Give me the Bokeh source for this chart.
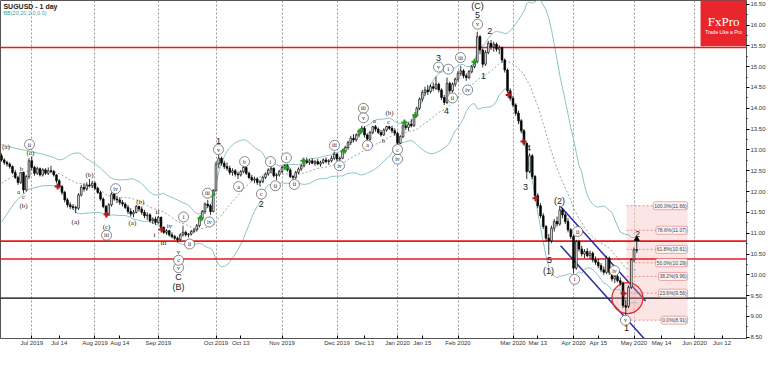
import pandas as pd
from bokeh.plotting import figure
from bokeh.models import Range1d, FixedTicker, Label, NumeralTickFormatter
from bokeh.core.properties import value
from bokeh.embed import file_html
from bokeh.resources import INLINE

# ---------------- data (daily SUGUSD bars) ----------------
opens = [12.86, 12.76, 12.70, 12.66, 12.60, 12.46, 12.34, 12.22, 12.46, 12.04,
         12.36, 12.74, 12.58, 12.44, 12.55, 12.40, 12.52, 12.44, 12.50, 12.48,
         12.40, 12.26, 12.12, 11.98, 11.80, 11.68, 11.64, 11.62, 11.60, 11.92,
         12.10, 12.06, 12.16, 12.14, 12.20, 12.08, 11.98, 11.82, 11.64, 11.46,
         11.68, 11.94, 11.82, 11.80, 11.74, 11.70, 11.62, 11.52, 11.46, 11.50,
         11.64, 11.58, 11.50, 11.42, 11.44, 11.30, 11.34, 11.26, 11.38, 11.14,
         11.02, 11.06, 10.96, 10.92, 10.88, 10.84, 10.96, 11.02, 10.96, 10.98,
         11.04, 11.08, 11.18, 11.36, 11.52, 11.70, 11.66, 11.52, 12.02, 12.66,
         12.80, 12.68, 12.60, 12.56, 12.46, 12.50, 12.42, 12.40, 12.48, 12.58,
         12.44, 12.34, 12.28, 12.30, 12.22, 12.24, 12.34, 12.42, 12.52, 12.56,
         12.38, 12.40, 12.48, 12.58, 12.62, 12.52, 12.36, 12.34, 12.46, 12.54,
         12.62, 12.74, 12.70, 12.74, 12.68, 12.72, 12.66, 12.70, 12.76, 12.72,
         12.74, 12.80, 12.90, 12.78, 12.80, 12.98, 13.06, 13.18, 13.28, 13.24,
         13.36, 13.46, 13.52, 13.36, 13.26, 13.42, 13.56, 13.50, 13.42, 13.36,
         13.48, 13.56, 13.52, 13.46, 13.40, 13.16, 13.32, 13.58, 13.54, 13.62,
         13.58, 13.82, 14.00, 14.22, 14.38, 14.44, 14.40, 14.52, 14.48, 14.58,
         14.44, 14.26, 14.14, 14.60, 14.42, 14.58, 14.70, 14.84, 14.90, 14.78,
         14.74, 14.88, 15.00, 15.12, 15.72, 15.40, 15.06, 15.34, 15.56, 15.48,
         15.54, 15.42, 15.46, 15.16, 14.92, 14.42, 14.24, 14.08, 13.88, 13.70,
         13.46, 13.16, 12.48, 12.86, 12.36, 11.90, 11.66, 11.42, 11.16, 10.88,
         10.82, 11.12, 11.28, 11.22, 11.56, 11.44, 11.28, 11.08, 10.92, 10.16,
         10.80, 10.62, 10.50, 10.56, 10.46, 10.52, 10.36, 10.30, 10.22, 10.12,
         10.06, 10.40, 10.06, 9.90, 9.96, 9.86, 9.80, 9.26, 9.24, 9.70, 10.36, 10.60]
highs = [12.92, 12.80, 12.74, 12.70, 12.63, 12.52, 12.38, 12.46, 12.48, 12.40,
         12.80, 12.84, 12.62, 12.60, 12.58, 12.56, 12.56, 12.58, 12.62, 12.52,
         12.42, 12.30, 12.16, 12.02, 11.84, 11.74, 11.70, 11.66, 11.96, 12.16,
         12.20, 12.22, 12.30, 12.26, 12.24, 12.12, 12.02, 11.86, 11.68, 11.72,
         11.98, 12.00, 11.90, 11.86, 11.80, 11.74, 11.68, 11.60, 11.56, 11.68,
         11.66, 11.64, 11.56, 11.50, 11.48, 11.38, 11.40, 11.42, 11.40, 11.16,
         11.10, 11.08, 11.02, 10.96, 10.92, 11.00, 11.18, 11.06, 11.00, 11.08,
         11.12, 11.22, 11.40, 11.56, 11.74, 11.80, 11.70, 12.06, 12.72, 12.88,
         12.84, 12.74, 12.70, 12.62, 12.56, 12.54, 12.48, 12.52, 12.64, 12.60,
         12.48, 12.40, 12.36, 12.34, 12.28, 12.38, 12.46, 12.56, 12.62, 12.58,
         12.44, 12.52, 12.62, 12.66, 12.66, 12.56, 12.40, 12.50, 12.58, 12.66,
         12.78, 12.82, 12.78, 12.80, 12.76, 12.78, 12.74, 12.80, 12.82, 12.78,
         12.86, 12.96, 12.92, 12.84, 13.02, 13.10, 13.22, 13.34, 13.38, 13.40,
         13.50, 13.58, 13.56, 13.40, 13.46, 13.58, 13.60, 13.54, 13.48, 13.52,
         13.58, 13.58, 13.58, 13.52, 13.44, 13.36, 13.62, 13.70, 13.66, 13.74,
         13.86, 14.04, 14.26, 14.44, 14.52, 14.56, 14.58, 14.62, 14.76, 14.62,
         14.48, 14.32, 14.74, 14.64, 14.62, 14.74, 14.90, 15.02, 14.94, 14.84,
         14.92, 15.04, 15.16, 15.84, 15.76, 15.44, 15.40, 15.62, 15.64, 15.60,
         15.58, 15.52, 15.48, 15.20, 14.96, 14.48, 14.30, 14.12, 13.94, 13.74,
         13.50, 13.18, 12.92, 12.90, 12.40, 11.96, 11.72, 11.48, 11.20, 10.98,
         11.18, 11.34, 11.40, 11.66, 11.60, 11.50, 11.36, 11.12, 10.96, 10.84,
         10.84, 10.70, 10.62, 10.64, 10.58, 10.56, 10.44, 10.38, 10.28, 10.20,
         10.46, 10.44, 10.10, 9.98, 10.00, 9.94, 9.84, 9.40, 9.74, 10.40, 10.66, 10.81]
lows = [12.72, 12.64, 12.60, 12.55, 12.42, 12.30, 12.16, 12.18, 11.96, 12.00,
        12.30, 12.52, 12.38, 12.40, 12.36, 12.36, 12.40, 12.40, 12.44, 12.36,
        12.20, 12.08, 11.92, 11.74, 11.62, 11.58, 11.56, 11.48, 11.56, 11.88,
        12.00, 12.02, 12.10, 12.08, 12.04, 11.94, 11.78, 11.60, 11.38, 11.42,
        11.64, 11.78, 11.72, 11.68, 11.64, 11.58, 11.46, 11.40, 11.38, 11.48,
        11.52, 11.44, 11.36, 11.32, 11.26, 11.22, 11.20, 11.22, 11.10, 10.98,
        10.96, 10.92, 10.88, 10.84, 10.78, 10.82, 10.92, 10.92, 10.90, 10.94,
        11.00, 11.04, 11.14, 11.30, 11.46, 11.60, 11.44, 11.50, 12.00, 12.56,
        12.62, 12.54, 12.50, 12.40, 12.38, 12.36, 12.30, 12.36, 12.44, 12.40,
        12.30, 12.24, 12.20, 12.16, 12.12, 12.20, 12.30, 12.38, 12.44, 12.34,
        12.28, 12.36, 12.44, 12.52, 12.48, 12.32, 12.28, 12.30, 12.42, 12.50,
        12.58, 12.66, 12.64, 12.66, 12.62, 12.64, 12.60, 12.66, 12.68, 12.64,
        12.70, 12.76, 12.72, 12.70, 12.78, 12.92, 13.00, 13.12, 13.18, 13.20,
        13.30, 13.40, 13.30, 13.20, 13.22, 13.38, 13.44, 13.38, 13.32, 13.34,
        13.44, 13.48, 13.40, 13.34, 13.14, 13.14, 13.28, 13.48, 13.46, 13.54,
        13.56, 13.78, 13.96, 14.16, 14.30, 14.32, 14.36, 14.42, 14.44, 14.38,
        14.20, 14.08, 14.10, 14.36, 14.38, 14.52, 14.64, 14.78, 14.72, 14.66,
        14.70, 14.84, 14.96, 15.08, 15.30, 14.98, 15.02, 15.30, 15.40, 15.36,
        15.36, 15.30, 15.10, 14.86, 14.36, 14.18, 14.02, 13.82, 13.62, 13.40,
        13.10, 12.30, 12.44, 12.30, 11.82, 11.60, 11.36, 11.10, 10.80, 10.48,
        10.76, 11.04, 11.16, 11.18, 11.36, 11.22, 11.02, 10.86, 10.04, 10.12,
        10.56, 10.44, 10.40, 10.42, 10.38, 10.30, 10.24, 10.16, 10.06, 10.00,
        10.02, 10.00, 9.84, 9.80, 9.82, 9.74, 9.20, 9.00, 9.20, 9.66, 10.30, 10.52]
closes = [12.76, 12.70, 12.66, 12.60, 12.46, 12.34, 12.22, 12.46, 12.04, 12.36,
          12.74, 12.58, 12.44, 12.55, 12.40, 12.52, 12.44, 12.50, 12.48, 12.40,
          12.26, 12.12, 11.98, 11.80, 11.68, 11.64, 11.62, 11.60, 11.92, 12.10,
          12.06, 12.16, 12.14, 12.20, 12.08, 11.98, 11.82, 11.64, 11.46, 11.68,
          11.94, 11.82, 11.80, 11.74, 11.70, 11.62, 11.52, 11.46, 11.50, 11.64,
          11.58, 11.50, 11.42, 11.44, 11.30, 11.34, 11.26, 11.38, 11.14, 11.02,
          11.06, 10.96, 10.92, 10.88, 10.84, 10.96, 11.02, 10.96, 10.98, 11.04,
          11.08, 11.18, 11.36, 11.52, 11.70, 11.66, 11.52, 12.02, 12.66, 12.80,
          12.68, 12.60, 12.56, 12.46, 12.50, 12.42, 12.40, 12.48, 12.58, 12.44,
          12.34, 12.28, 12.30, 12.22, 12.24, 12.34, 12.42, 12.52, 12.56, 12.38,
          12.40, 12.48, 12.58, 12.62, 12.52, 12.36, 12.34, 12.46, 12.54, 12.62,
          12.74, 12.70, 12.74, 12.68, 12.72, 12.66, 12.70, 12.76, 12.72, 12.74,
          12.80, 12.90, 12.78, 12.80, 12.98, 13.06, 13.18, 13.28, 13.24, 13.36,
          13.46, 13.52, 13.36, 13.26, 13.42, 13.56, 13.50, 13.42, 13.36, 13.48,
          13.56, 13.52, 13.46, 13.40, 13.16, 13.32, 13.58, 13.54, 13.62, 13.58,
          13.82, 14.00, 14.22, 14.38, 14.44, 14.40, 14.52, 14.48, 14.58, 14.44,
          14.26, 14.14, 14.60, 14.42, 14.58, 14.70, 14.84, 14.90, 14.78, 14.74,
          14.88, 15.00, 15.12, 15.72, 15.40, 15.06, 15.34, 15.56, 15.48, 15.54,
          15.42, 15.46, 15.16, 14.92, 14.42, 14.24, 14.08, 13.88, 13.70, 13.46,
          13.16, 12.48, 12.86, 12.36, 11.90, 11.66, 11.42, 11.16, 10.88, 10.82,
          11.12, 11.28, 11.22, 11.56, 11.44, 11.28, 11.08, 10.92, 10.16, 10.80,
          10.62, 10.50, 10.56, 10.46, 10.52, 10.36, 10.30, 10.22, 10.12, 10.06,
          10.40, 10.06, 9.90, 9.96, 9.86, 9.80, 9.26, 9.22, 9.70, 10.36, 10.60, 10.59]

# Bollinger band values visible before the 20-bar window fills
bb_head_idx = [0, 5, 10, 15]
bb_head_upper = [13.13, 13.04, 12.97, 12.90]
bb_head_lower = [11.27, 11.75, 12.06, 12.14]
bb_head_mid = [12.20, 12.40, 12.50, 12.52]

price_ticks = [8.5, 9.0, 9.5, 10.0, 10.5, 11.0, 11.5, 12.0, 12.5, 13.0, 13.5,
               14.0, 14.5, 15.0, 15.5, 16.0, 16.5]
date_tick_idx = [11, 21, 34, 43, 57, 78, 87, 102, 122, 132, 144, 153, 166,
                 186, 195, 208, 217, 230, 240, 252, 262]
date_tick_labels = ["Jul 2019", "Jul 14", "Aug 2019", "Aug 14", "Sep 2019",
                    "Oct 2019", "Oct 13", "Nov 2019", "Dec 2019", "Dec 13",
                    "Jan 2020", "Jan 15", "Feb 2020", "Mar 2020", "Mar 13",
                    "Apr 2020", "Apr 15", "May 2020", "May 14", "Jun 2020", "Jun 12"]
month_grid_idx = [11, 34, 57, 78, 102, 122, 144, 166, 186, 208, 230, 252, 275]

red_levels = [15.46, 10.81, 10.38]
black_levels = [9.44]

channel_x = [203.3, 234.2]
channel_upper = [11.64, 9.37]
channel_lower = [10.70, 8.43]

fib_x = [227.3, 249.5]
fib_values = [8.91, 9.56, 9.96, 10.29, 10.61, 11.07, 11.66]
fib_texts = ["0.0%(8.91)", "23.6%(9.56)", "38.2%(9.96)", "50.0%(10.29)",
             "61.8%(10.61)", "78.6%(11.07)", "100.0%(11.66)"]

circle_x, circle_y = [227.6], [9.44]

green_x = [72.4, 76.7, 103.6, 109.8, 124.4, 130.5, 146.5, 150.5, 172.0]
green_y = [11.36, 11.93, 12.58, 12.74, 12.97, 13.45, 13.66, 13.84, 15.12]
red_x = [20.4, 38.2, 58.2, 184.4, 189.8, 194.2, 226.2]
red_y = [12.12, 11.45, 11.09, 14.32, 13.20, 11.84, 9.55]
arrow_x, arrow_y = [231.0], [10.86]

circ_txt = ["ii", "iv", "iii", "v", "i", "ii", "iii", "iv", "v", "i", "ii", "i", "ii",
            "iii", "iv", "iii", "v", "iv", "v", "i", "ii", "iii", "iv", "v", "i", "ii",
            "iv", "v", "c", "a", "b", "c", "a", "c"]
circ_x = [10.2, 41.5, 38.2, 64.4, 66.2, 68.4, 74.9, 75.6, 78.9, 97.8, 99.6, 103.6,
          106.5, 121.1, 122.9, 131.6, 131.6, 144.0, 158.9, 162.5, 164.0, 166.9,
          169.5, 173.1, 208.4, 209.5, 222.9, 226.9, 64.4, 86.2, 88.4, 94.5, 133.1, 144.0]
circ_y = [13.13, 12.07, 10.95, 10.17, 11.39, 10.74, 11.96, 11.27, 13.01, 12.72,
          12.14, 12.81, 12.17, 13.11, 12.62, 14.00, 13.77, 12.78, 14.99, 14.94,
          14.25, 15.22, 14.44, 16.02, 9.89, 11.04, 10.10, 8.91, 10.35, 12.12,
          12.72, 11.94, 13.11, 13.01]

serif_txt = ["(a)", "b", "a", "c", "(b)", "(c)", "(b)", "(a)", "(c)", "(a)", "(b)",
             "ii", "i", "iii", "iv", "v", "a", "b", "c", "(b)"]
serif_x = [1.6, 7.3, 6.2, 8.0, 8.0, 10.5, 32.0, 26.9, 38.2, 47.6, 50.5, 56.7,
           55.6, 58.9, 61.1, 64.4, 135.6, 138.9, 140.7, 141.1]
serif_y = [13.08, 12.55, 11.98, 11.87, 11.66, 12.92, 12.39, 11.27, 11.16, 11.25,
           11.75, 11.50, 10.95, 10.77, 11.18, 10.56, 13.70, 13.22, 13.68, 13.89]

big_txt = ["C", "(B)", "1", "2", "3", "4", "(C)", "5", "1", "2", "3", "4", "5",
           "(1)", "(2)", "1", "2"]
big_x = [64.4, 64.4, 78.9, 94.5, 158.9, 161.8, 173.1, 173.1, 175.3, 177.5, 190.5,
         191.6, 199.3, 198.9, 202.9, 227.3, 231.3]
big_y = [9.94, 9.71, 13.22, 11.71, 15.22, 13.93, 16.45, 16.25, 14.78, 15.86,
         12.12, 13.04, 10.35, 10.10, 11.78, 8.72, 10.97]

last_price = 10.59
ask_price = 10.25

# ---------------- derived ----------------
N = len(closes)
idx = list(range(N))
s = pd.Series(closes)
mid = s.rolling(20).mean()
sd = s.rolling(20).std(ddof=0)
bx = bb_head_idx + idx[19:]
bu = bb_head_upper + list((mid + 2 * sd)[19:])
bl = bb_head_lower + list((mid - 2 * sd)[19:])
bm = bb_head_mid + list(mid[19:])

inc = [i for i in idx if closes[i] >= opens[i]]
dec = [i for i in idx if closes[i] < opens[i]]

# ---------------- figure ----------------
SANS = "Liberation Sans"
SERIF = "Liberation Serif"
X0 = -0.36
X1 = 270.9

p = figure(frame_width=746, frame_height=338, x_range=Range1d(X0, X1),
           y_range=Range1d(8.47, 16.59), output_backend="svg",
           toolbar_location=None, y_axis_location="right",
           min_border_left=0, min_border_top=0, min_border_bottom=0,
           min_border_right=0)
p.background_fill_color = "white"
p.border_fill_color = "white"
p.outline_line_color = "#555555"
p.outline_line_width = 1

minor = [8.5 + 0.25 * k for k in range(33)]
p.yaxis.ticker = FixedTicker(ticks=price_ticks, minor_ticks=minor)
p.yaxis.formatter = NumeralTickFormatter(format="0.00")
p.yaxis.major_label_text_font = SANS
p.yaxis.major_label_text_font_size = "6px"
p.yaxis.major_label_text_color = "#333333"
p.yaxis.major_label_standoff = 1
p.yaxis.major_tick_out = 3
p.yaxis.major_tick_in = 0
p.yaxis.minor_tick_out = 1
p.yaxis.minor_tick_in = 0
p.yaxis.axis_line_color = "#555555"

p.xaxis.ticker = FixedTicker(ticks=date_tick_idx)
p.xaxis.major_label_overrides = {t: l for t, l in zip(date_tick_idx, date_tick_labels)}
p.xaxis.major_label_text_font = SANS
p.xaxis.major_label_text_font_size = "6px"
p.xaxis.major_label_text_color = "#333333"
p.xaxis.major_label_standoff = 1
p.xaxis.major_tick_in = 3
p.xaxis.major_tick_out = 0
p.xaxis.minor_tick_out = 0
p.xaxis.minor_tick_line_color = None
p.xaxis.axis_line_color = "#555555"

p.xgrid.ticker = FixedTicker(ticks=month_grid_idx)
p.xgrid.grid_line_color = "#9a9a9a"
p.xgrid.grid_line_dash = "2 2"
p.xgrid.grid_line_width = 1
p.ygrid.visible = False

# Fibonacci box
p.quad(left=[fib_x[0]], right=[fib_x[1]], bottom=[fib_values[0]], top=[fib_values[-1]],
       fill_color="#f7d0d0", fill_alpha=0.55, line_color=None)
p.segment(x0=[fib_x[0]] * len(fib_values), y0=fib_values,
          x1=[fib_x[1]] * len(fib_values), y1=fib_values,
          line_color="#e07a7a", line_dash="2 2", line_width=0.8)

# FxPro logo box
p.quad(left=[254.2], right=[X1 + 1], bottom=[15.49], top=[16.8],
       fill_color="#e8262c", line_color=None)

# Bollinger bands
p.line(bx, bu, line_color="#8cc4c4", line_width=1)
p.line(bx, bl, line_color="#8cc4c4", line_width=1)
p.line(bx, bm, line_color="#7f8f8f", line_width=0.8, line_dash="2 2")

# horizontal levels
for lv in red_levels:
    p.line([X0 - 1, X1 + 1], [lv, lv], line_color="#e8191a", line_width=1.6)
for lv in black_levels:
    p.line([X0 - 1, X1 + 1], [lv, lv], line_color="#000000", line_width=1.4)

# channel
p.line(channel_x, channel_upper, line_color="#2b2ba8", line_width=1.5)
p.line(channel_x, channel_lower, line_color="#2b2ba8", line_width=1.5)

# highlight circle
p.scatter(circle_x, circle_y, marker="circle", size=31, fill_color="#f4a8a8",
          fill_alpha=0.35, line_color="#e52b2b", line_width=1.3)

# candles
p.segment(x0=idx, y0=lows, x1=idx, y1=highs, line_color="black", line_width=0.8)
p.vbar(x=inc, width=0.62, bottom=[opens[i] for i in inc], top=[closes[i] for i in inc],
       fill_color="white", line_color="black", line_width=0.7)
p.vbar(x=dec, width=0.62, bottom=[closes[i] for i in dec], top=[opens[i] for i in dec],
       fill_color="black", line_color="black", line_width=0.7)

# signal markers
p.scatter(green_x, green_y, marker="cross", size=6, line_color="#1f9e1f", line_width=2)
p.scatter(red_x, red_y, marker="cross", size=6, line_color="#b3191c", line_width=2)
p.scatter(arrow_x, arrow_y, marker="triangle", size=5, fill_color="black", line_color="black")

# Elliott wave labels
p.scatter(circ_x, circ_y, marker="circle", size=10, fill_color="white",
          line_color="#555555", line_width=0.7)
p.text(circ_x, circ_y, text=circ_txt, text_font=value(SERIF), text_font_size="6px",
       text_align="center", text_baseline="middle", text_color="#222222")
p.text(serif_x, serif_y, text=serif_txt, text_font=value(SERIF), text_font_size="7px",
       text_align="center", text_baseline="middle", text_color="#222222")
p.text(big_x, big_y, text=big_txt, text_font=value(SANS), text_font_size="9px",
       text_align="center", text_baseline="middle", text_color="#222222")

# Fibonacci labels
for v, t in zip(fib_values, fib_texts):
    p.add_layout(Label(x=fib_x[1], y=v, text=t, text_align="right",
                       text_baseline="middle", text_font=SANS, text_font_size="5px",
                       text_color="#444444", background_fill_color="#fdf3f3",
                       border_line_color="#e08a8a", border_line_width=0.7,
                       padding=1, border_radius=2))

# logo text
p.add_layout(Label(x=262.6, y=16.09, text="FxPro", text_align="center",
                   text_baseline="middle", text_font=SERIF, text_font_size="13px",
                   text_color="white"))
p.add_layout(Label(x=262.6, y=15.83, text="Trade Like a Pro", text_align="center",
                   text_baseline="middle", text_font=SANS, text_font_size="5px",
                   text_color="white"))

# title
p.add_layout(Label(x=0.7, y=16.45, text="SUGUSD - 1 day", text_baseline="middle",
                   text_font=SANS, text_font_size="7px", text_font_style="bold",
                   text_color="#222222"))
p.add_layout(Label(x=0.7, y=16.28, text="BB(20,20,2.0,0.0)", text_baseline="middle",
                   text_font=SANS, text_font_size="5.5px", text_color="#3f9f9f"))

# price boxes on the axis
p.add_layout(Label(x=X1, y=last_price, x_offset=3, text=f"{last_price:.2f}",
                   text_align="left", text_baseline="middle", text_font=SANS,
                   text_font_size="6px", text_color="#222222",
                   background_fill_color="#f4f6f8", border_line_color="#6f8294",
                   border_line_width=0.8, padding=1, border_radius=2))
p.add_layout(Label(x=X1, y=ask_price, x_offset=3, text=f"{ask_price:.2f}",
                   text_align="left", text_baseline="middle", text_font=SANS,
                   text_font_size="6px", text_color="#222222",
                   background_fill_color="#f4c2c2", border_line_color="#d44848",
                   border_line_width=0.8, padding=1, border_radius=2))

open("out.html", "w").write(file_html(p, INLINE))
